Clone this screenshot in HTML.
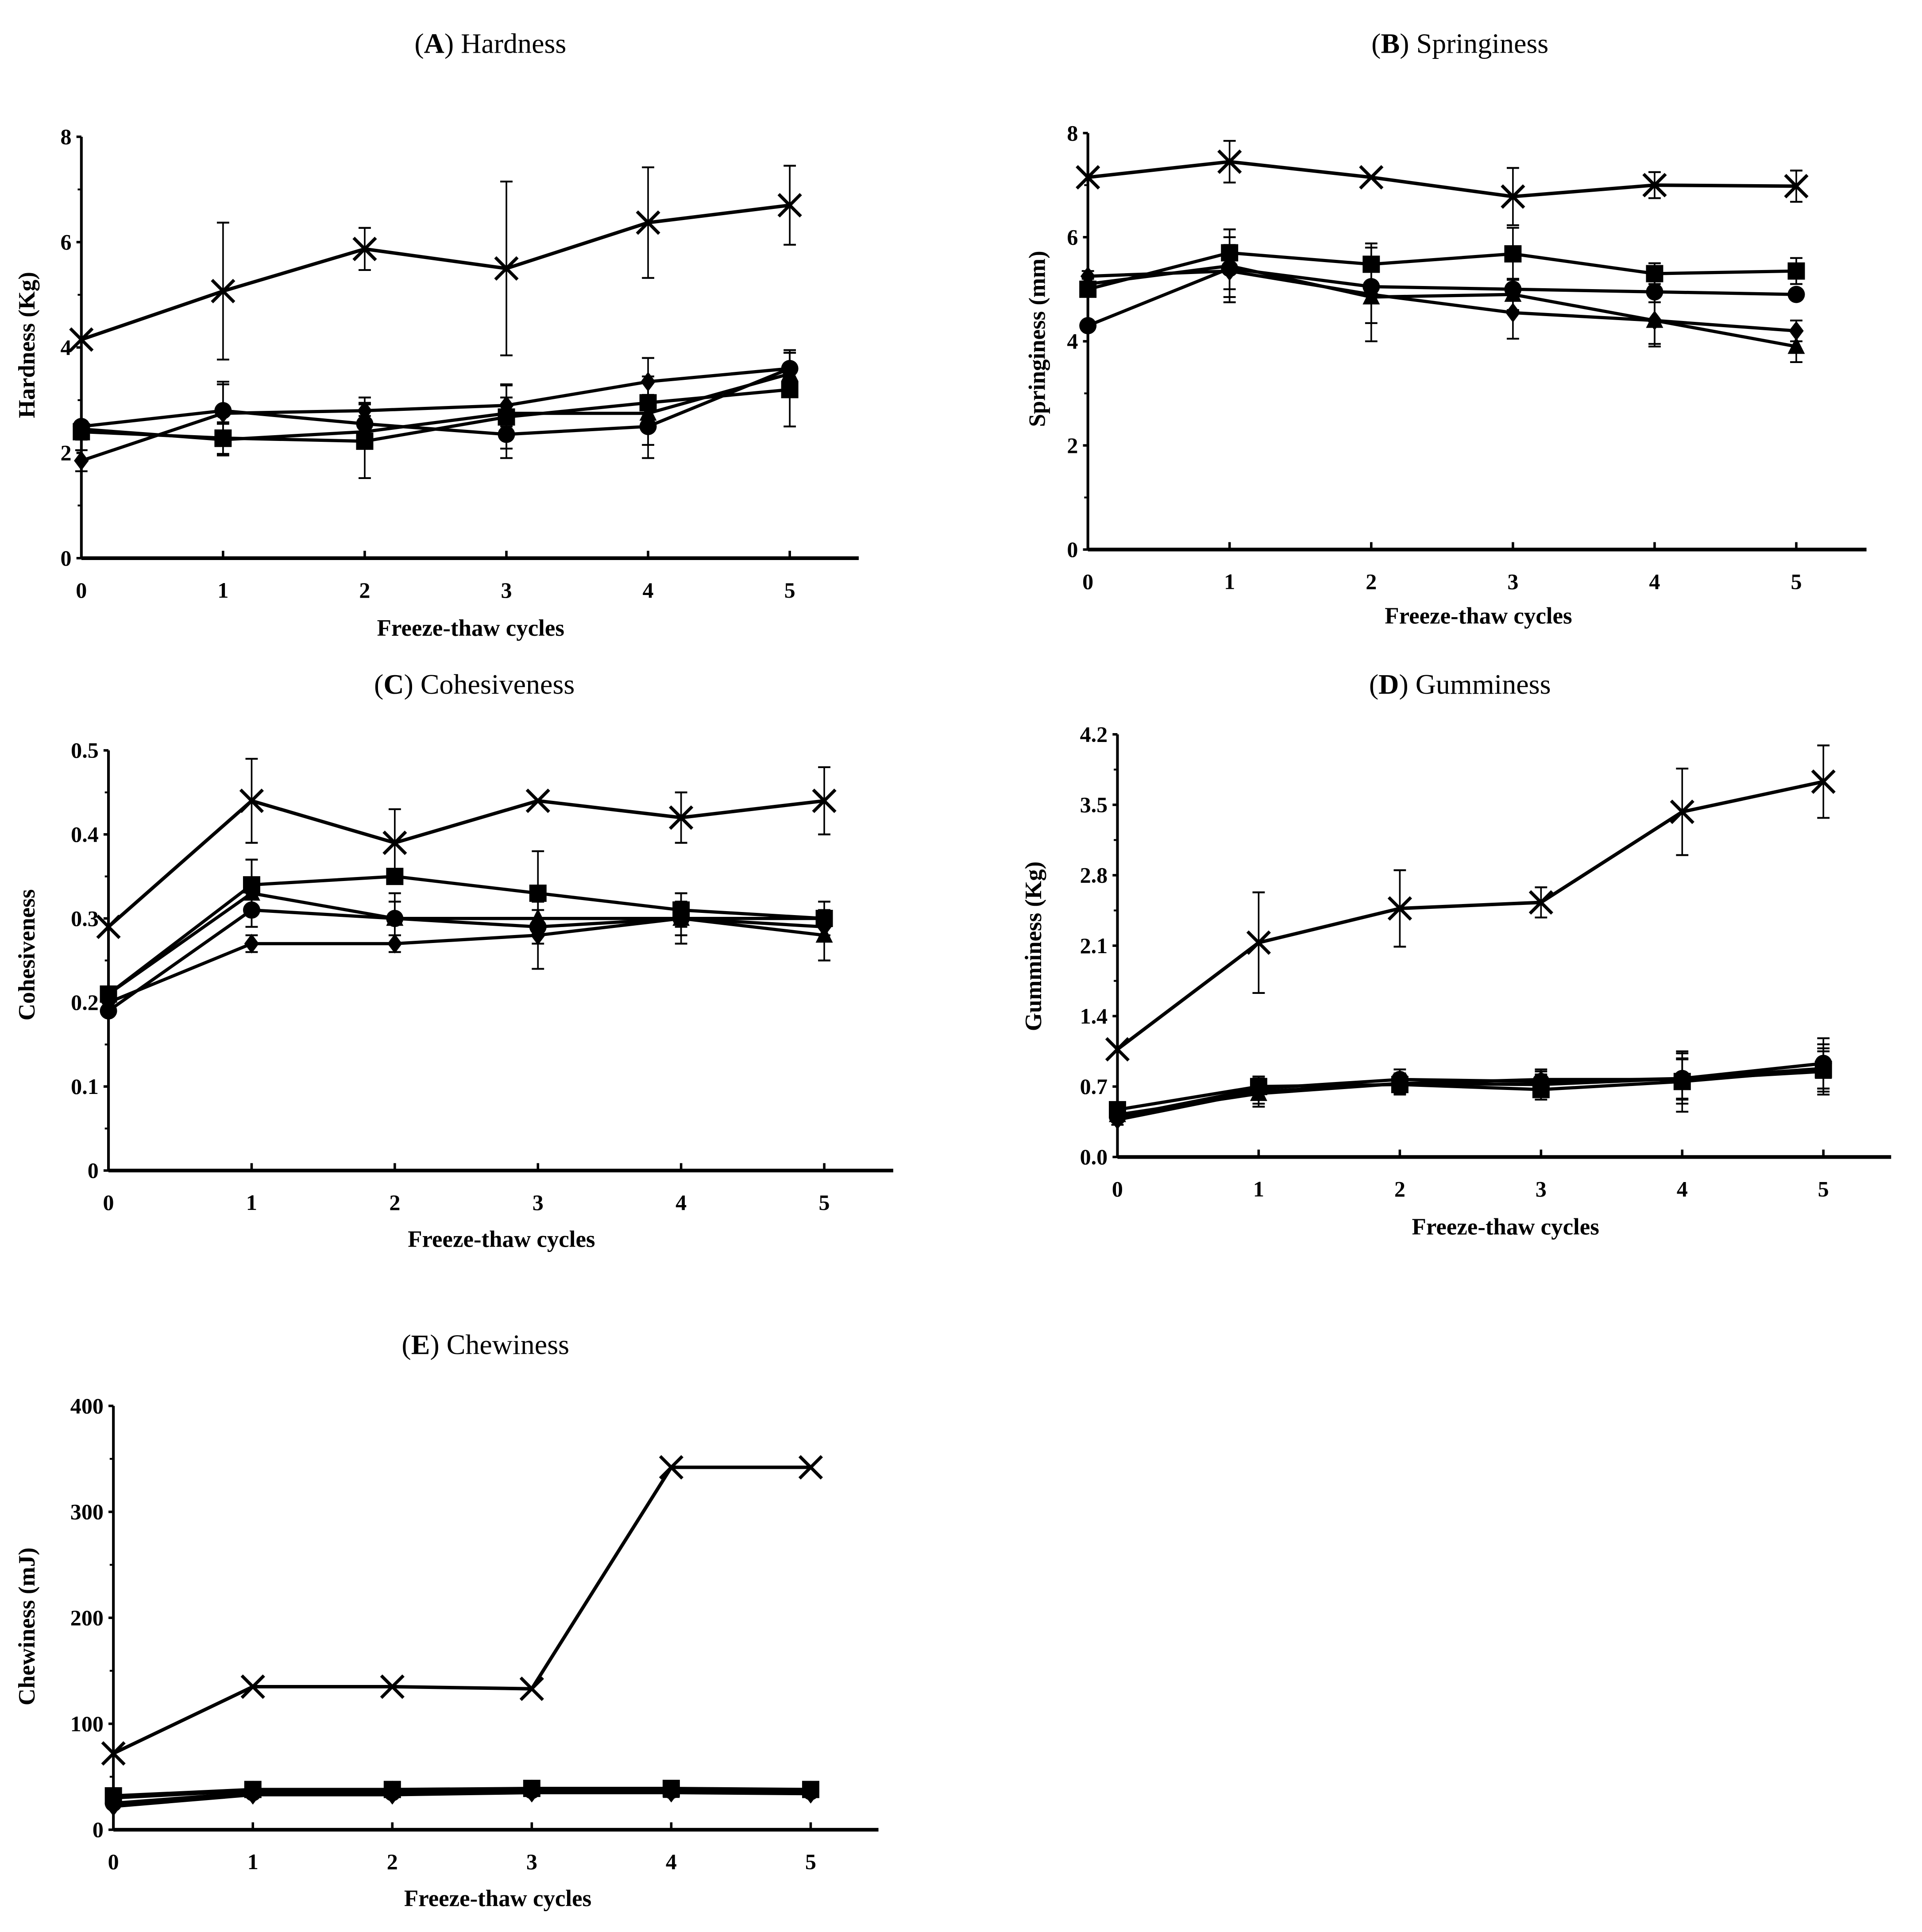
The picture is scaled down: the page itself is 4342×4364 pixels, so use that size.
<!DOCTYPE html>
<html><head><meta charset="utf-8"><style>
html,body{margin:0;padding:0;background:#fff;}
svg{display:block;}
text{font-family:"Liberation Serif",serif;fill:#000;}
.tick{font-weight:bold;font-size:18px;}
.xl{font-weight:bold;font-size:19px;}
.tt{font-size:23px;}
</style></head><body>
<svg id="fig" xmlns="http://www.w3.org/2000/svg" width="4342" height="4364" viewBox="0 0 1560 1568"></svg>
<script>
const cycles=[0,1,2,3,4,5];
// Panel A Hardness
const aX=[4.15,5.07,5.87,5.5,6.37,6.7], aXe=[0,1.3,0.4,1.65,1.05,0.75];
const aSq=[2.4,2.28,2.22,2.68,2.95,3.2], aSqe=[0.15,0.3,0.7,0.6,0.5,0.7];
const aCi=[2.5,2.8,2.55,2.35,2.5,3.6], aCie=[0.1,0.5,0.4,0.45,0.6,0.35];
const aDi=[1.85,2.75,2.8,2.9,3.35,3.6], aDie=[0.2,0.6,0.25,0.4,0.45,0.3];
const aTr=[2.45,2.25,2.4,2.75,2.75,3.5], aTre=[0.1,0.3,0.3,0.3,0.6,0.4];
const aTicks=[0,2,4,6,8];
// Panel B Springiness
const bX=[7.15,7.45,7.15,6.78,7.0,6.98], bXe=[0,0.4,0,0.55,0.25,0.3];
const bSq=[5.0,5.7,5.48,5.68,5.3,5.35], bSqe=[0.1,0.3,0.4,0.5,0.2,0.25];
const bCi=[4.3,5.4,5.05,5.0,4.95,4.9], bCie=[0,0.4,0.3,0.2,0.2,0.1];
const bDi=[5.25,5.35,4.9,4.55,4.4,4.2], bDie=[0.1,0.5,0.9,0.5,0.45,0.2];
const bTr=[5.1,5.45,4.85,4.9,4.4,3.9], bTre=[0.1,0.7,0.5,0.3,0.5,0.3];
const bTicks=[0,2,4,6,8];
// Panel C Cohesiveness
const cX=[0.29,0.44,0.39,0.44,0.42,0.44], cXe=[0,0.05,0.04,0,0.03,0.04];
const cSq=[0.21,0.34,0.35,0.33,0.31,0.30], cSqe=[0,0.03,0,0.05,0.02,0.02];
const cCi=[0.19,0.31,0.30,0.29,0.30,0.30], cCie=[0,0.02,0.03,0.02,0.03,0.01];
const cDi=[0.20,0.27,0.27,0.28,0.30,0.29], cDie=[0,0.01,0.01,0.04,0.02,0.01];
const cTr=[0.21,0.33,0.30,0.30,0.30,0.28], cTre=[0,0.04,0.02,0.02,0.02,0.03];
const cTicks=[0,0.1,0.2,0.3,0.4,0.5], cTickLabels=["0","0.1","0.2","0.3","0.4","0.5"];
// Panel D Gumminess
const dX=[1.07,2.13,2.47,2.53,3.43,3.73], dXe=[0,0.5,0.38,0.15,0.43,0.36];
const dSq=[0.47,0.70,0.72,0.67,0.75,0.87], dSqe=[0.05,0.1,0.1,0.1,0.3,0.25];
const dCi=[0.40,0.68,0.77,0.75,0.78,0.93], dCie=[0.05,0.1,0.1,0.1,0.25,0.25];
const dDi=[0.37,0.65,0.73,0.72,0.78,0.88], dDie=[0.05,0.15,0.1,0.1,0.2,0.2];
const dTr=[0.42,0.63,0.73,0.77,0.77,0.85], dTre=[0.05,0.1,0.1,0.1,0.2,0.2];
const dTicks=[0,0.7,1.4,2.1,2.8,3.5,4.2], dTickLabels=["0.0","0.7","1.4","2.1","2.8","3.5","4.2"];
// Panel E Chewiness
const eX=[72,135,135,133,342,342];
const eSq=[32,38,38,39,39,38];
const eCi=[25,35,35,37,37,36];
const eDi=[22,33,33,35,35,34];
const eTr=[30,37,37,38,37,37];
const eTicks=[0,100,200,300,400];

const NS="http://www.w3.org/2000/svg";
const svg=document.getElementById('fig');
function mk(tag,attrs,parent){const e=document.createElementNS(NS,tag);for(const k in attrs)e.setAttribute(k,attrs[k]);(parent||svg).appendChild(e);return e;}

function panel(p){
  const g=mk('g',{});
  
  
  const xs=i=>p.x0+(p.x5-p.x0)*i/5;
  const ys=v=>p.y0+(p.yTop-p.y0)*v/p.ymax;
  const t=mk('text',{x:p.tx,y:p.ty,'text-anchor':'middle','class':'tt'},g);
  
  
  t.innerHTML='(<tspan font-weight="bold">'+p.letter+'</tspan>) '+p.title;
  const ax=mk('g',{stroke:'#000'},g);
  
  
  mk('line',{x1:p.x0,y1:p.y0,x2:p.x0,y2:p.yTop,'stroke-width':2.2},ax);
  mk('line',{x1:p.x0,y1:p.y0,x2:p.xEnd,y2:p.y0,'stroke-width':3},ax);
  p.ticks.forEach((v,i)=>{
    mk('line',{x1:p.x0-4,y1:ys(v),x2:p.x0,y2:ys(v),'stroke-width':2},ax);
    if(i<p.ticks.length-1){const m=(v+p.ticks[i+1])/2;mk('line',{x1:p.x0-3,y1:ys(m),x2:p.x0,y2:ys(m),'stroke-width':1.5},ax);}
    const tl=mk('text',{x:p.x0-8,y:ys(v)+6,'text-anchor':'end','class':'tick'},g);
    
    
    tl.textContent=p.labels?p.labels[i]:String(v);
  });
  cycles.forEach(c=>{
    mk('line',{x1:xs(c),y1:p.y0,x2:xs(c),y2:p.y0-6,'stroke-width':2},ax);
    const tl=mk('text',{x:xs(c),y:p.y0+32,'text-anchor':'middle','class':'tick'},g);
    
    
    tl.textContent=c;
  });
  const xl=mk('text',{x:p.xlx,y:p.xly,'text-anchor':'middle','class':'xl'},g);
  
  
  xl.textContent='Freeze-thaw cycles';
  const ym=p.ylm||(p.y0+p.yTop)/2;
  const yl=mk('text',{x:0,y:0,'text-anchor':'middle','class':'xl',transform:'translate('+p.ylx+','+ym+') rotate(-90)'},g);
  
  
  yl.textContent=p.ylabel;
  p.series.forEach(s=>{
    const sg=mk('g',{},g);
    
    
    if(s.e){s.v.forEach((v,i)=>{if(!s.e[i])return;const x=xs(i),a=ys(v+s.e[i]),b=ys(Math.max(0,v-s.e[i]));
      mk('line',{x1:x,y1:a,x2:x,y2:b,stroke:'#000','stroke-width':1.3},sg);
      mk('line',{x1:x-5,y1:a,x2:x+5,y2:a,stroke:'#000','stroke-width':1.5},sg);
      mk('line',{x1:x-5,y1:b,x2:x+5,y2:b,stroke:'#000','stroke-width':1.5},sg);});}
    const pts=s.v.map((v,i)=>xs(i)+','+ys(v)).join(' ');
    const pl=mk('polyline',{points:pts,fill:'none',stroke:'#000','stroke-width':s.m==='cross'?2.8:2.6},sg);
    
    
    s.v.forEach((v,i)=>{const x=xs(i),y=ys(v);let m;
      if(s.m==='cross'){m=mk('path',{d:`M${x-9} ${y-9}L${x+9} ${y+9}M${x-9} ${y+9}L${x+9} ${y-9}`,stroke:'#000','stroke-width':2.6,fill:'none'},sg);}
      else if(s.m==='square'){m=mk('rect',{x:x-7,y:y-7,width:14,height:14,fill:'#000'},sg);}
      else if(s.m==='circle'){m=mk('circle',{cx:x,cy:y,r:7,fill:'#000'},sg);}
      else if(s.m==='diamond'){m=mk('path',{d:`M${x} ${y-8}L${x+6} ${y}L${x} ${y+8}L${x-6} ${y}Z`,fill:'#000'},sg);}
      else {m=mk('path',{d:`M${x} ${y-8}L${x+7} ${y+6}L${x-7} ${y+6}Z`,fill:'#000'},sg);}
      
      
    });
  });
}
panel({name:'panel-a-hardness',letter:'A',title:'Hardness',tx:398,ty:43,x0:66,x5:641,xEnd:697,y0:453,yTop:111,ymax:8,ticks:aTicks,xlx:382,xly:516,ylx:28,ylm:280,ylabel:'Hardness  (Kg)',
 series:[{v:aTr,e:aTre,m:'triangle'},{v:aDi,e:aDie,m:'diamond'},{v:aCi,e:aCie,m:'circle'},{v:aSq,e:aSqe,m:'square'},{v:aX,e:aXe,m:'cross'}]});
panel({name:'panel-b-springiness',letter:'B',title:'Springiness',tx:1185,ty:43,x0:883,x5:1458,xEnd:1515,y0:446,yTop:108,ymax:8,ticks:bTicks,xlx:1200,xly:506,ylx:848,ylm:275,ylabel:'Springiness  (mm)',
 series:[{v:bTr,e:bTre,m:'triangle'},{v:bDi,e:bDie,m:'diamond'},{v:bCi,e:bCie,m:'circle'},{v:bSq,e:bSqe,m:'square'},{v:bX,e:bXe,m:'cross'}]});
panel({name:'panel-c-cohesiveness',letter:'C',title:'Cohesiveness',tx:385,ty:563,x0:88,x5:669,xEnd:725,y0:950,yTop:609,ymax:0.5,ticks:cTicks,labels:cTickLabels,xlx:407,xly:1012,ylx:28,ylm:775,ylabel:'Cohesiveness',
 series:[{v:cTr,e:cTre,m:'triangle'},{v:cDi,e:cDie,m:'diamond'},{v:cCi,e:cCie,m:'circle'},{v:cSq,e:cSqe,m:'square'},{v:cX,e:cXe,m:'cross'}]});
panel({name:'panel-d-gumminess',letter:'D',title:'Gumminess',tx:1185,ty:563,x0:907,x5:1480,xEnd:1535,y0:939,yTop:596,ymax:4.2,ticks:dTicks,labels:dTickLabels,xlx:1222,xly:1002,ylx:845,ylm:768,ylabel:'Gumminess  (Kg)',
 series:[{v:dTr,e:dTre,m:'triangle'},{v:dDi,e:dDie,m:'diamond'},{v:dCi,e:dCie,m:'circle'},{v:dSq,e:dSqe,m:'square'},{v:dX,e:dXe,m:'cross'}]});
panel({name:'panel-e-chewiness',letter:'E',title:'Chewiness',tx:394,ty:1099,x0:92,x5:658,xEnd:713,y0:1485,yTop:1141,ymax:400,ticks:eTicks,xlx:404,xly:1547,ylx:28,ylm:1320,ylabel:'Chewiness  (mJ)',
 series:[{v:eTr,m:'triangle'},{v:eDi,m:'diamond'},{v:eCi,m:'circle'},{v:eSq,m:'square'},{v:eX,m:'cross'}]});
</script>
</body></html>
